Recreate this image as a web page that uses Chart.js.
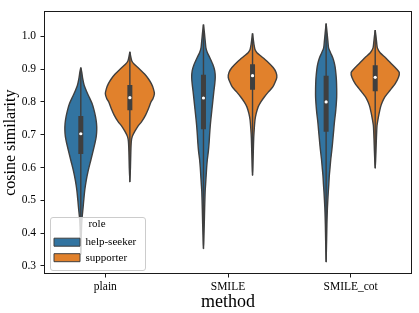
<!DOCTYPE html>
<html><head><meta charset="utf-8">
<script src="https://cdn.jsdelivr.net/npm/chart.js@4.4.0/dist/chart.umd.min.js"></script>
<style>html,body{margin:0;padding:0;background:#fff}#wrap{width:419px;height:313px;position:relative}</style>
</head><body><div id="wrap"><canvas id="c"></canvas></div>
<script>
const methods = ['plain', 'SMILE', 'SMILE_cot'];
const roles = ['help-seeker', 'supporter'];
const yTicks = [0.3, 0.4, 0.5, 0.6, 0.7, 0.8, 0.9, 1.0];

// violin density profiles (cosine similarity level -> relative density)
const seekerPlainLevels = [0.905,0.89,0.87,0.85,0.835,0.815,0.795,0.775,0.755,0.735,0.715,0.695,0.675,0.65,0.62,0.59,0.56,0.53,0.50,0.475,0.45,0.42,0.38,0.335];
const seekerPlainDensity = [0,0.04,0.08,0.14,0.22,0.34,0.46,0.54,0.60,0.64,0.65,0.63,0.58,0.50,0.40,0.30,0.22,0.16,0.12,0.09,0.056,0.032,0.016,0];
const supporterPlainLevels = [0.953,0.94,0.925,0.915,0.90,0.885,0.87,0.855,0.84,0.825,0.81,0.80,0.78,0.76,0.74,0.725,0.71,0.695,0.68,0.65,0.60,0.556];
const supporterPlainDensity = [0,0.032,0.08,0.18,0.40,0.60,0.76,0.88,0.96,1.0,0.94,0.86,0.76,0.64,0.48,0.32,0.20,0.10,0.06,0.04,0.024,0];
const seekerSmileLevels = [1.036,1.01,0.985,0.965,0.95,0.935,0.915,0.895,0.875,0.855,0.83,0.795,0.76,0.73,0.70,0.676,0.65,0.626,0.60,0.576,0.55,0.526,0.476,0.426,0.39,0.352];
const seekerSmileDensity = [0,0.04,0.072,0.10,0.16,0.26,0.38,0.46,0.48,0.46,0.42,0.37,0.32,0.28,0.25,0.23,0.20,0.16,0.13,0.11,0.088,0.068,0.048,0.032,0.016,0];
const supporterSmileLevels = [1.009,0.99,0.975,0.96,0.95,0.94,0.925,0.905,0.89,0.875,0.86,0.845,0.83,0.815,0.80,0.785,0.765,0.745,0.72,0.69,0.65,0.61,0.576];
const supporterSmileDensity = [0,0.032,0.06,0.10,0.18,0.34,0.58,0.84,0.96,0.99,0.92,0.82,0.64,0.48,0.34,0.23,0.15,0.10,0.072,0.048,0.032,0.016,0];
const seekerCotLevels = [1.039,1.01,0.985,0.965,0.95,0.935,0.92,0.905,0.885,0.865,0.84,0.815,0.79,0.765,0.74,0.715,0.69,0.666,0.645,0.626,0.60,0.576,0.55,0.526,0.476,0.427,0.38,0.34,0.312];
const seekerCotDensity = [0,0.04,0.072,0.10,0.18,0.27,0.33,0.37,0.40,0.42,0.43,0.43,0.41,0.38,0.34,0.31,0.28,0.25,0.22,0.19,0.16,0.13,0.11,0.088,0.052,0.032,0.02,0.008,0];
const supporterCotLevels = [1.019,1.0,0.98,0.965,0.95,0.935,0.915,0.90,0.89,0.875,0.855,0.835,0.815,0.80,0.785,0.765,0.745,0.726,0.686,0.65,0.62,0.598];
const supporterCotDensity = [0,0.032,0.06,0.088,0.20,0.42,0.68,0.88,0.98,0.95,0.81,0.60,0.39,0.29,0.22,0.16,0.11,0.072,0.048,0.032,0.016,0];

// box statistics per method
const seekerQ1 = [0.641, 0.717, 0.709];
const seekerMedian = [0.703, 0.812, 0.800];
const seekerQ3 = [0.757, 0.883, 0.880];
const seekerMin = [0.335, 0.352, 0.312];
const seekerMax = [0.905, 1.036, 1.039];
const supporterQ1 = [0.775, 0.837, 0.833];
const supporterMedian = [0.813, 0.880, 0.875];
const supporterQ3 = [0.852, 0.915, 0.912];
const supporterMin = [0.556, 0.576, 0.598];
const supporterMax = [0.953, 1.009, 1.019];

const profiles = [
  [[seekerPlainLevels, seekerPlainDensity], [seekerSmileLevels, seekerSmileDensity], [seekerCotLevels, seekerCotDensity]],
  [[supporterPlainLevels, supporterPlainDensity], [supporterSmileLevels, supporterSmileDensity], [supporterCotLevels, supporterCotDensity]]
];
const stats = [
  {q1: seekerQ1, med: seekerMedian, q3: seekerQ3, lo: seekerMin, hi: seekerMax},
  {q1: supporterQ1, med: supporterMedian, q3: supporterQ3, lo: supporterMin, hi: supporterMax}
];

const roleColors = ['#3274a1', '#e1812c'];
const edge = '#3f3f3f';
const hueOffsets = [-0.2, 0.2];
const maxHalf = 0.2;

function violinPoints(center, levels, dens) {
  const left = levels.map((v, i) => ({x: center - dens[i] * maxHalf, y: v}));
  const right = levels.map((v, i) => ({x: center + dens[i] * maxHalf, y: v})).reverse();
  return left.concat(right.slice(1));
}

const datasets = [];
roles.forEach((r, h) => {
  methods.forEach((m, i) => {
    const c = i + hueOffsets[h];
    const [lv, dn] = profiles[h][i];
    datasets.push({type: 'line', label: r + ' ' + m, data: violinPoints(c, lv, dn),
      borderColor: edge, borderWidth: 1.4, backgroundColor: roleColors[h], fill: 'shape',
      tension: 0.2, pointRadius: 0, pointHoverRadius: 0, borderJoinStyle: 'round', order: 3});
    datasets.push({type: 'line', label: 'whisker', data: [{x: c, y: stats[h].lo[i]}, {x: c, y: stats[h].hi[i]}],
      borderColor: edge, borderWidth: 1.4, pointRadius: 0, fill: false, order: 2});
    datasets.push({type: 'line', label: 'box', data: [{x: c, y: stats[h].q1[i]}, {x: c, y: stats[h].q3[i]}],
      borderColor: edge, borderWidth: 5, borderCapStyle: 'butt', pointRadius: 0, fill: false, order: 1});
    datasets.push({type: 'scatter', label: 'median', data: [{x: c, y: stats[h].med[i]}],
      pointRadius: 1.6, pointBackgroundColor: '#ffffff', pointBorderWidth: 0, order: 0});
  });
});

const framePlugin = {
  id: 'framePlugin',
  afterInit(chart) {
    const lg = chart.legend;
    if (lg) lg._layers = () => [{z: 10, draw: (ca) => lg.draw(ca)}];
  },
  afterLayout(chart) {
    const lg = chart.legend, ca = chart.chartArea;
    lg.left = ca.left + 5.5; lg.width = 95; lg.right = lg.left + lg.width;
    lg.height = 53; lg.bottom = ca.bottom - 4; lg.top = lg.bottom - lg.height;
  },
  afterDatasetsDraw(chart) {
    const ctx = chart.ctx, ca = chart.chartArea, lg = chart.legend;
    ctx.save();
    ctx.strokeStyle = '#1a1a1a'; ctx.lineWidth = 1;
    ctx.strokeRect(Math.round(ca.left) + 0.5, Math.round(ca.top) + 0.5, Math.round(ca.right - ca.left) - 1, Math.round(ca.bottom - ca.top) - 1);
    ctx.beginPath();
    ctx.roundRect(Math.round(lg.left) + 0.5, Math.round(lg.top) + 0.5, lg.width, lg.height, 2.5);
    ctx.fillStyle = 'rgba(255,255,255,0.8)'; ctx.fill();
    ctx.strokeStyle = '#cccccc'; ctx.stroke();
    ctx.restore();
  }
};

Chart.defaults.font.family = '"Liberation Serif", "Times New Roman", serif';
Chart.defaults.color = '#000';

new Chart(document.getElementById('c'), {
  data: {datasets},
  options: {
    responsive: true, maintainAspectRatio: false, animation: false, events: [],
    layout: {autoPadding: false, padding: {left: 0, right: 7, top: 6, bottom: 0}},
    scales: {
      x: {type: 'linear', min: -0.5, max: 2.5,
        afterBuildTicks: (s) => { s.ticks = methods.map((m, i) => ({value: i})); },
        afterFit: (s) => { s.height = 39; },
        ticks: {autoSkip: false, maxRotation: 0, padding: 2.5, font: {size: 11.5}, color: '#000',
          callback: (v) => methods[v]},
        grid: {display: true, drawOnChartArea: false, drawTicks: true, tickLength: 3.5, color: '#1a1a1a'},
        border: {display: false},
        title: {display: true, text: 'method', font: {size: 18}, color: '#000', padding: {top: 0, bottom: 0}}
      },
      y: {type: 'linear', min: 0.2752, max: 1.0762,
        afterBuildTicks: (s) => { s.ticks = yTicks.map(v => ({value: v})); },
        afterFit: (s) => { s.width = 44; },
        ticks: {padding: 4.5, font: {size: 11.5}, color: '#000', callback: (v) => v.toFixed(1)},
        grid: {display: true, drawOnChartArea: false, drawTicks: true, tickLength: 3.5, color: '#1a1a1a'},
        border: {display: false},
        title: {display: true, text: 'cosine similarity', font: {size: 16}, color: '#000', padding: {top: 1.5, bottom: 0}}
      }
    },
    plugins: {
      tooltip: {enabled: false},
      legend: {
        display: true, position: 'chartArea', align: 'start',
        title: {display: true, text: 'role', font: {size: 11}, color: '#000', padding: {top: 2, bottom: 0}},
        labels: {boxWidth: 26, boxHeight: 8, padding: 4.5, font: {size: 11}, color: '#000',
          generateLabels: () => roles.map((r, i) => ({text: r, fillStyle: roleColors[i], strokeStyle: edge,
            lineWidth: 1, hidden: false, datasetIndex: i}))}
      }
    }
  },
  plugins: [framePlugin]
});
</script></body></html>
